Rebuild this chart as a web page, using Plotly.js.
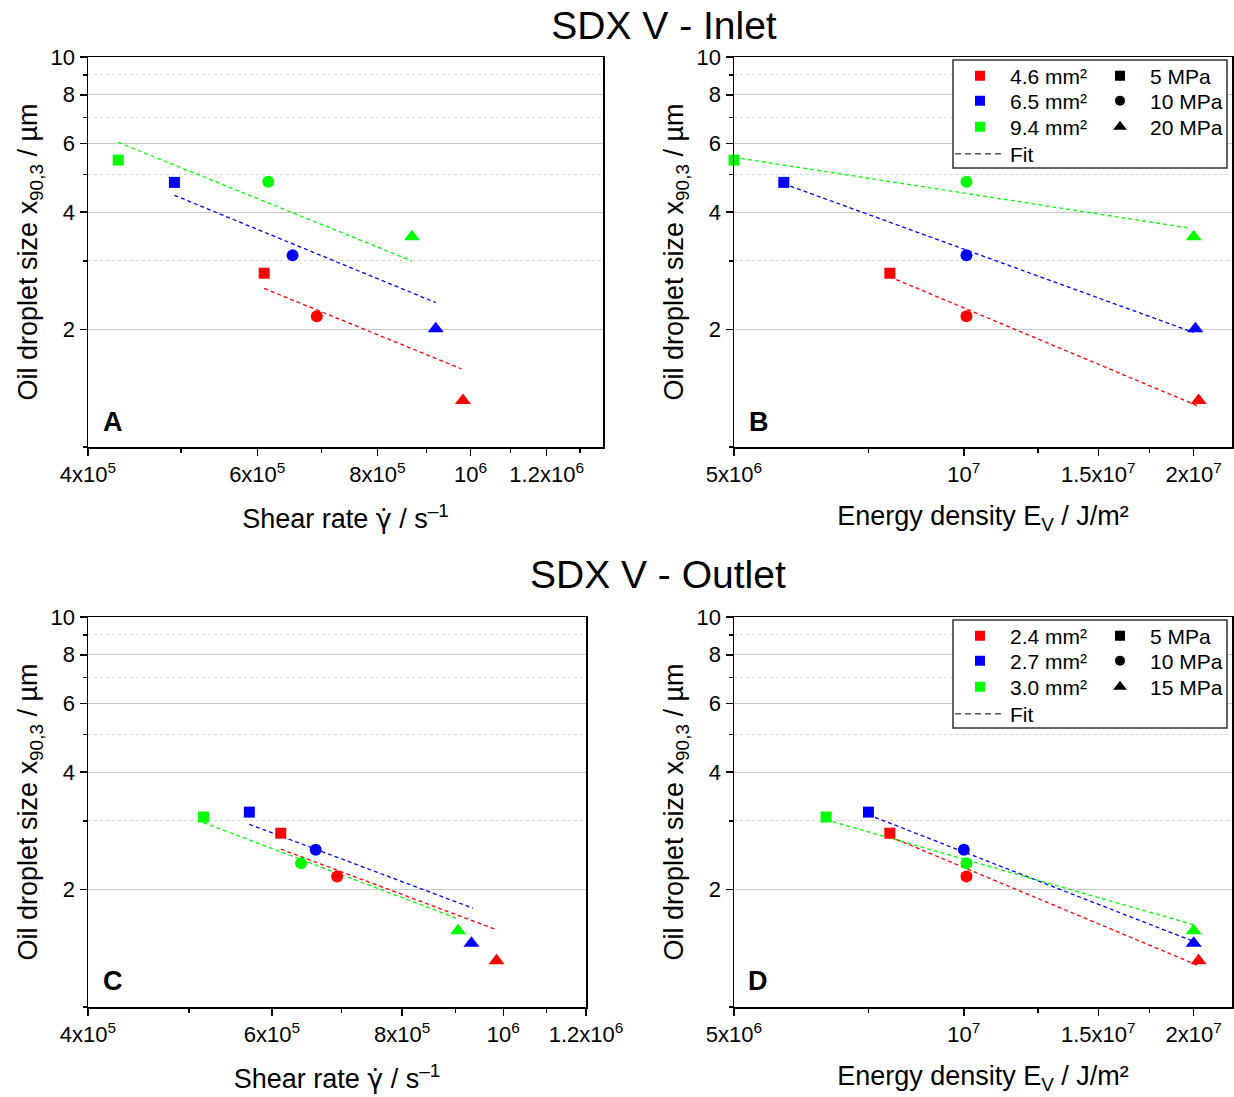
<!DOCTYPE html>
<html>
<head>
<meta charset="utf-8">
<script src="https://cdn.plot.ly/plotly-3.0.1.min.js"></script>
<style>html,body{margin:0;padding:0;background:#fff;}#chart{width:1234px;height:1097px;}</style>
</head>
<body>
<div id="chart"></div>
<script>
// ---------------- DATA ----------------
var pressureSymbols = ['square', 'circle', 'triangle-up'];
var inletAreas = ['4.6 mm²', '6.5 mm²', '9.4 mm²'];
var outletAreas = ['2.4 mm²', '2.7 mm²', '3.0 mm²'];
var inletPressures = ['5 MPa', '10 MPa', '20 MPa'];
var outletPressures = ['5 MPa', '10 MPa', '15 MPa'];
var seriesColors = ['#ff0000', '#0000ff', '#00ff00'];

// Inlet (5, 10, 20 MPa)
var inletShearRed = [6.10e5, 6.92e5, 9.82e5];
var inletShearBlue = [4.92e5, 6.53e5, 9.20e5];
var inletShearGreen = [4.30e5, 6.16e5, 8.69e5];
var inletEnergyRed = [8.0e6, 1.008e7, 2.03e7];
var inletEnergyBlue = [5.81e6, 1.008e7, 2.01e7];
var inletEnergyGreen = [5.0e6, 1.008e7, 2.0e7];
var inletSizeRed = [2.79, 2.165, 1.315];
var inletSizeBlue = [4.77, 3.10, 2.01];
var inletSizeGreen = [5.44, 4.79, 3.46];

// Inlet fits (start, end)
var fitAShearRed = [6.10e5, 9.79e5], fitASizeRed = [2.55, 1.585];
var fitAShearBlue = [4.92e5, 9.20e5], fitASizeBlue = [4.42, 2.346];
var fitAShearGreen = [4.30e5, 8.69e5], fitASizeGreen = [6.04, 3.00];
var fitBEnergyRed = [8.0e6, 2.02e7], fitBSizeRed = [2.73, 1.277];
var fitBEnergyBlue = [5.81e6, 2.0e7], fitBSizeBlue = [4.73, 1.966];
var fitBEnergyGreen = [5.0e6, 1.977e7], fitBSizeGreen = [5.53, 3.64];

// Outlet (5, 10, 15 MPa)
var outletShearRed = [6.12e5, 6.93e5, 9.85e5];
var outletShearBlue = [5.71e5, 6.61e5, 9.32e5];
var outletShearGreen = [5.16e5, 6.40e5, 9.05e5];
var outletEnergyRed = [8.0e6, 1.008e7, 2.03e7];
var outletEnergyBlue = [7.5e6, 1.0e7, 2.0e7];
var outletEnergyGreen = [6.6e6, 1.008e7, 2.0e7];
var outletSizeRed = [2.79, 2.16, 1.314];
var outletSizeBlue = [3.16, 2.53, 1.458];
var outletSizeGreen = [3.07, 2.336, 1.569];

// Outlet fits
var fitCShearRed = [6.12e5, 9.85e5], fitCSizeRed = [2.54, 1.578];
var fitCShearBlue = [5.71e5, 9.35e5], fitCSizeBlue = [2.94, 1.792];
var fitCShearGreen = [5.16e5, 9.05e5], fitCSizeGreen = [2.97, 1.683];
var fitDEnergyRed = [8.0e6, 2.03e7], fitDSizeRed = [2.735, 1.276];
var fitDEnergyBlue = [7.5e6, 2.0e7], fitDSizeBlue = [3.11, 1.473];
var fitDEnergyGreen = [6.6e6, 2.0e7], fitDSizeGreen = [3.02, 1.625];

// Axis ticks
var sizeTicks = [2, 4, 6, 8, 10];
var sizeTickText = ['2', '4', '6', '8', '10'];
var sizeMinor = [1, 3, 5, 7, 9];
var shearTicks = [4e5, 6e5, 8e5, 1e6, 1.2e6];
var shearTickText = ['4x10<sup>5</sup>', '6x10<sup>5</sup>', '8x10<sup>5</sup>', '10<sup>6</sup>', '1.2x10<sup>6</sup>'];
var shearMinor = [5e5, 7e5, 9e5, 1.1e6, 1.3e6];
var energyTicks = [5e6, 1e7, 1.5e7, 2e7];
var energyTickText = ['5x10<sup>6</sup>', '10<sup>7</sup>', '1.5x10<sup>7</sup>', '2x10<sup>7</sup>'];
var energyMinor = [7.5e6, 1.25e7, 1.75e7, 2.25e7];

// ---------------- LAYOUT HELPERS ----------------
var W = 1234, H = 1097;
var ML = 88, MR = 2, MT = 57, MB = 90;
var PW = W - ML - MR, PH = H - MT - MB;
function px(x) { return (x - ML) / PW; }
function py(y) { return (H - MB - y) / PH; }
var FONT = '"Liberation Sans", Arial, sans-serif';

var traces = [];
function addPoints(xa, ya, xs, ys, color) {
  traces.push({
    type: 'scatter', mode: 'markers', x: xs, y: ys, xaxis: xa, yaxis: ya,
    showlegend: false, cliponaxis: false, hoverinfo: 'x+y',
    marker: { color: color, opacity: 1, symbol: pressureSymbols, size: [11, 12, 14], line: { width: 0 } }
  });
}
function addFit(xa, ya, xs, ys, color) {
  traces.push({
    type: 'scatter', mode: 'lines', x: xs, y: ys, xaxis: xa, yaxis: ya,
    showlegend: false, hoverinfo: 'skip',
    line: { color: color, width: 1.3, dash: '4px,3px' }
  });
}

// Panel A
addFit('x', 'y', fitAShearRed, fitASizeRed, seriesColors[0]);
addFit('x', 'y', fitAShearBlue, fitASizeBlue, seriesColors[1]);
addFit('x', 'y', fitAShearGreen, fitASizeGreen, seriesColors[2]);
addPoints('x', 'y', inletShearRed, inletSizeRed, seriesColors[0]);
addPoints('x', 'y', inletShearBlue, inletSizeBlue, seriesColors[1]);
addPoints('x', 'y', inletShearGreen, inletSizeGreen, seriesColors[2]);
// Panel B
addFit('x2', 'y2', fitBEnergyRed, fitBSizeRed, seriesColors[0]);
addFit('x2', 'y2', fitBEnergyBlue, fitBSizeBlue, seriesColors[1]);
addFit('x2', 'y2', fitBEnergyGreen, fitBSizeGreen, seriesColors[2]);
addPoints('x2', 'y2', inletEnergyRed, inletSizeRed, seriesColors[0]);
addPoints('x2', 'y2', inletEnergyBlue, inletSizeBlue, seriesColors[1]);
addPoints('x2', 'y2', inletEnergyGreen, inletSizeGreen, seriesColors[2]);
// Panel C
addFit('x3', 'y3', fitCShearRed, fitCSizeRed, seriesColors[0]);
addFit('x3', 'y3', fitCShearBlue, fitCSizeBlue, seriesColors[1]);
addFit('x3', 'y3', fitCShearGreen, fitCSizeGreen, seriesColors[2]);
addPoints('x3', 'y3', outletShearRed, outletSizeRed, seriesColors[0]);
addPoints('x3', 'y3', outletShearBlue, outletSizeBlue, seriesColors[1]);
addPoints('x3', 'y3', outletShearGreen, outletSizeGreen, seriesColors[2]);
// Panel D
addFit('x4', 'y4', fitDEnergyRed, fitDSizeRed, seriesColors[0]);
addFit('x4', 'y4', fitDEnergyBlue, fitDSizeBlue, seriesColors[1]);
addFit('x4', 'y4', fitDEnergyGreen, fitDSizeGreen, seriesColors[2]);
addPoints('x4', 'y4', outletEnergyRed, outletSizeRed, seriesColors[0]);
addPoints('x4', 'y4', outletEnergyBlue, outletSizeBlue, seriesColors[1]);
addPoints('x4', 'y4', outletEnergyGreen, outletSizeGreen, seriesColors[2]);

// ---------------- LEGENDS (one small legend per cell of the 2-column key) ----------------
var legendDefs = {};
var legendCount = 0;
function legendCell(x, yc) {
  legendCount += 1;
  var id = legendCount === 1 ? 'legend' : 'legend' + legendCount;
  legendDefs[id] = { x: px(x), y: py(yc), xanchor: 'left', yanchor: 'middle', xref: 'paper', yref: 'paper',
    orientation: 'v', bgcolor: 'rgba(0,0,0,0)', borderwidth: 0, itemwidth: 50, tracegroupgap: 0,
    font: { size: 21, color: '#000', family: FONT }, itemclick: false, itemdoubleclick: false };
  return id;
}
function addLegendSet(xa, ya, areas, pressures, rowY) {
  for (var i = 0; i < 3; i++) {
    traces.push({ type: 'scatter', mode: 'markers', x: [null], y: [null], xaxis: xa, yaxis: ya,
      name: areas[i], legend: legendCell(950, rowY[i]), showlegend: true,
      marker: { color: seriesColors[i], opacity: 1, symbol: 'square', size: 10 } });
    traces.push({ type: 'scatter', mode: 'markers', x: [null], y: [null], xaxis: xa, yaxis: ya,
      name: pressures[i], legend: legendCell(1090, rowY[i]), showlegend: true,
      marker: { color: '#000000', opacity: 1, symbol: pressureSymbols[i], size: i === 2 ? 12 : 10 } });
  }
  traces.push({ type: 'scatter', mode: 'lines', x: [null], y: [null], xaxis: xa, yaxis: ya,
    name: 'Fit', legend: legendCell(950, rowY[3]), showlegend: true,
    line: { color: '#555555', width: 1.5, dash: '6px,4px' } });
}
addLegendSet('x2', 'y2', inletAreas, inletPressures, [76, 101, 127, 154]);
addLegendSet('x4', 'y4', outletAreas, outletPressures, [636, 661, 687, 714]);

function yAxis(domain, anchor) {
  return {
    type: 'log', range: [0, 1], domain: domain, anchor: anchor,
    tickmode: 'array', tickvals: sizeTicks, ticktext: sizeTickText,
    ticks: 'outside', ticklen: 7, tickwidth: 1.5, tickcolor: '#000',
    showline: true, linecolor: '#000', linewidth: 1.5, mirror: true,
    showgrid: true, gridcolor: '#c8c8c8', gridwidth: 1.4, zeroline: false,
    tickfont: { size: 22, color: '#000', family: FONT },
    minor: { tickmode: 'array', tickvals: sizeMinor, ticks: 'outside', ticklen: 4, tickwidth: 1.5, tickcolor: '#000',
      showgrid: true, gridcolor: '#d4d4d4', gridwidth: 1, griddash: 'dot' },
    title: { text: 'Oil droplet size x<sub>90,3</sub> / µm', font: { size: 27, color: '#000', family: FONT }, standoff: 5 }
  };
}
function xAxis(domain, anchor, range, tv, tt, minor, title, standoff) {
  return {
    type: 'log', range: range, domain: domain, anchor: anchor,
    tickmode: 'array', tickvals: tv, ticktext: tt,
    ticks: 'outside', ticklen: 7, tickwidth: 1.5, tickcolor: '#000',
    showline: true, linecolor: '#000', linewidth: 1.5, mirror: true,
    showgrid: false, zeroline: false,
    tickfont: { size: 22, color: '#000', family: FONT },
    minor: { tickmode: 'array', tickvals: minor, ticks: 'outside', ticklen: 4, tickwidth: 1.5, tickcolor: '#000', showgrid: false },
    title: { text: title, font: { size: 27, color: '#000', family: FONT }, standoff: standoff }
  };
}

var shearTitle = 'Shear rate <span style="font-family:\'DejaVu Sans\'">γ̇</span> / s<sup>–1</sup>';
var energyTitle = 'Energy density E<sub>V</sub> / J/m²';
var topDom = [py(447), 1], botDom = [0, py(617)];
var aDom = [0, px(603)], bDom = [px(734), 1], cDom = [0, px(586)], dDom = [px(734), 1];
var energyRange = [Math.log10(5e6), Math.log10(2.245e7)];

var layout = {
  width: W, height: H,
  margin: { l: ML, r: MR, t: MT, b: MB },
  paper_bgcolor: '#fff', plot_bgcolor: '#fff',
  font: { family: FONT, color: '#000' },
  showlegend: true,
  title: { text: 'SDX V - Inlet', x: 664 / W, xanchor: 'center', xref: 'container', y: 1 - 25 / H, yanchor: 'middle', yref: 'container',
    font: { size: 39, color: '#000', family: FONT } },
  xaxis: xAxis(aDom, 'y', [Math.log10(4e5), Math.log10(1.3735e6)], shearTicks, shearTickText, shearMinor, shearTitle, 23),
  yaxis: yAxis(topDom, 'x'),
  xaxis2: xAxis(bDom, 'y2', energyRange, energyTicks, energyTickText, energyMinor, energyTitle, 20),
  yaxis2: yAxis(topDom, 'x2'),
  xaxis3: xAxis(cDom, 'y3', [Math.log10(4e5), Math.log10(1.2e6)], shearTicks, shearTickText, shearMinor.slice(0, 4), shearTitle, 23),
  yaxis3: yAxis(botDom, 'x3'),
  xaxis4: xAxis(dDom, 'y4', energyRange, energyTicks, energyTickText, energyMinor, energyTitle, 20),
  yaxis4: yAxis(botDom, 'x4'),
  shapes: [
    { type: 'rect', xref: 'paper', yref: 'paper', x0: px(953), x1: px(1227), y0: py(168), y1: py(60),
      line: { color: '#333', width: 1.5 }, fillcolor: '#fff', layer: 'above' },
    { type: 'rect', xref: 'paper', yref: 'paper', x0: px(953), x1: px(1227), y0: py(728), y1: py(620),
      line: { color: '#333', width: 1.5 }, fillcolor: '#fff', layer: 'above' }
  ],
  annotations: [
    { text: 'SDX V - Outlet', xref: 'paper', yref: 'paper', x: px(658), y: py(574), xanchor: 'center', yanchor: 'middle',
      showarrow: false, font: { size: 39, color: '#000', family: FONT } },
    { text: '<b>A</b>', xref: 'paper', yref: 'paper', x: px(113), y: py(422), xanchor: 'center', yanchor: 'middle', showarrow: false, font: { size: 27, color: '#000', family: FONT } },
    { text: '<b>B</b>', xref: 'paper', yref: 'paper', x: px(759), y: py(422), xanchor: 'center', yanchor: 'middle', showarrow: false, font: { size: 27, color: '#000', family: FONT } },
    { text: '<b>C</b>', xref: 'paper', yref: 'paper', x: px(113), y: py(981), xanchor: 'center', yanchor: 'middle', showarrow: false, font: { size: 27, color: '#000', family: FONT } },
    { text: '<b>D</b>', xref: 'paper', yref: 'paper', x: px(758), y: py(981), xanchor: 'center', yanchor: 'middle', showarrow: false, font: { size: 27, color: '#000', family: FONT } }
  ]
};
for (var key in legendDefs) { layout[key] = legendDefs[key]; }

Plotly.newPlot('chart', traces, layout, { staticPlot: true, displayModeBar: false });
</script>
</body>
</html>
